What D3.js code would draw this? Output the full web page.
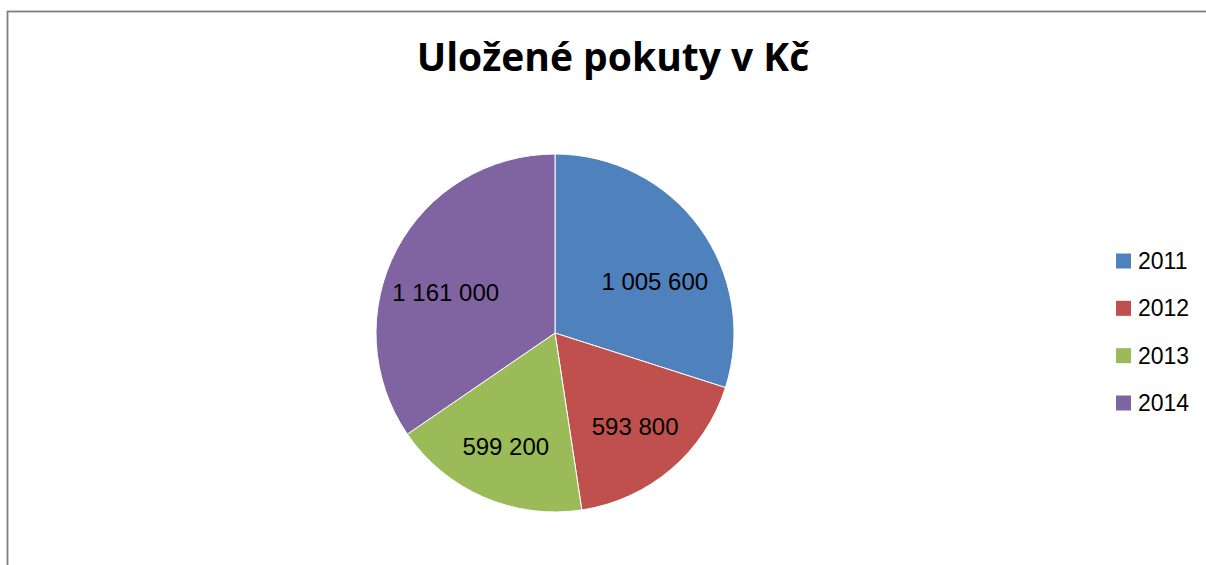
<!DOCTYPE html>
<html><head><meta charset="utf-8">
<script src="https://cdn.jsdelivr.net/npm/d3@7"></script>
<style>html,body{margin:0;padding:0;background:#fff;overflow:hidden}</style>
</head><body>
<script>
const categories = ["2011", "2012", "2013", "2014"];
const values = [1005600, 593800, 599200, 1161000];
const labels = ["1 005 600", "593 800", "599 200", "1 161 000"];
const colors = ["#4F81BD", "#C0504D", "#9BBB59", "#8064A2"];
const title = "Uložené pokuty v Kč";

const W = 1206, H = 565;
const svg = d3.select("body").append("svg").attr("width", W).attr("height", H);

svg.append("rect").attr("x", 7.5).attr("y", 11.5).attr("width", 1300).attr("height", 700)
  .attr("fill", "#fff").attr("stroke", "#7f7f7f").attr("stroke-width", 1.8);

svg.append("text").attr("x", 613).attr("y", 71).attr("text-anchor", "middle")
  .attr("font-family", "'Open Sans', sans-serif").attr("font-weight", "bold")
  .attr("font-size", 39).attr("fill", "#000").text(title);

const cx = 555, cy = 333, r = 179;
const pie = d3.pie().sort(null).value(d => d);
const arcs = pie(values);
const arc = d3.arc().innerRadius(0).outerRadius(r);
const g = svg.append("g").attr("transform", `translate(${cx},${cy})`);
g.selectAll("path").data(arcs).join("path")
  .attr("d", arc).attr("fill", (d, i) => colors[i])
  .attr("stroke", "#fff").attr("stroke-width", 1);

g.selectAll("text").data(arcs).join("text")
  .attr("transform", d => {
    const a = (d.startAngle + d.endAngle) / 2;
    const rr = 0.69 * r;
    const x = Math.sin(a) * rr;
    let y = -Math.cos(a) * rr;
    if (y < 0) y = y * 0.7;
    return `translate(${x},${y})`;
  })
  .attr("text-anchor", "middle").attr("dy", "0.35em")
  .attr("font-family", "'Liberation Sans', Arial, sans-serif").attr("font-size", 24)
  .attr("fill", "#000").text((d, i) => labels[i]);

const leg = svg.append("g");
const yScale = d3.scalePoint().domain(categories).range([261, 403]);
categories.forEach((c, i) => {
  const y = yScale(c);
  leg.append("rect").attr("x", 1116).attr("y", y - 7.5).attr("width", 15).attr("height", 15).attr("fill", colors[i]);
  leg.append("text").attr("x", 1138).attr("y", y).attr("dy", "0.35em")
    .attr("font-family", "'Liberation Sans', Arial, sans-serif").attr("font-size", 23)
    .attr("fill", "#000").text(c);
});
</script>
</body></html>
